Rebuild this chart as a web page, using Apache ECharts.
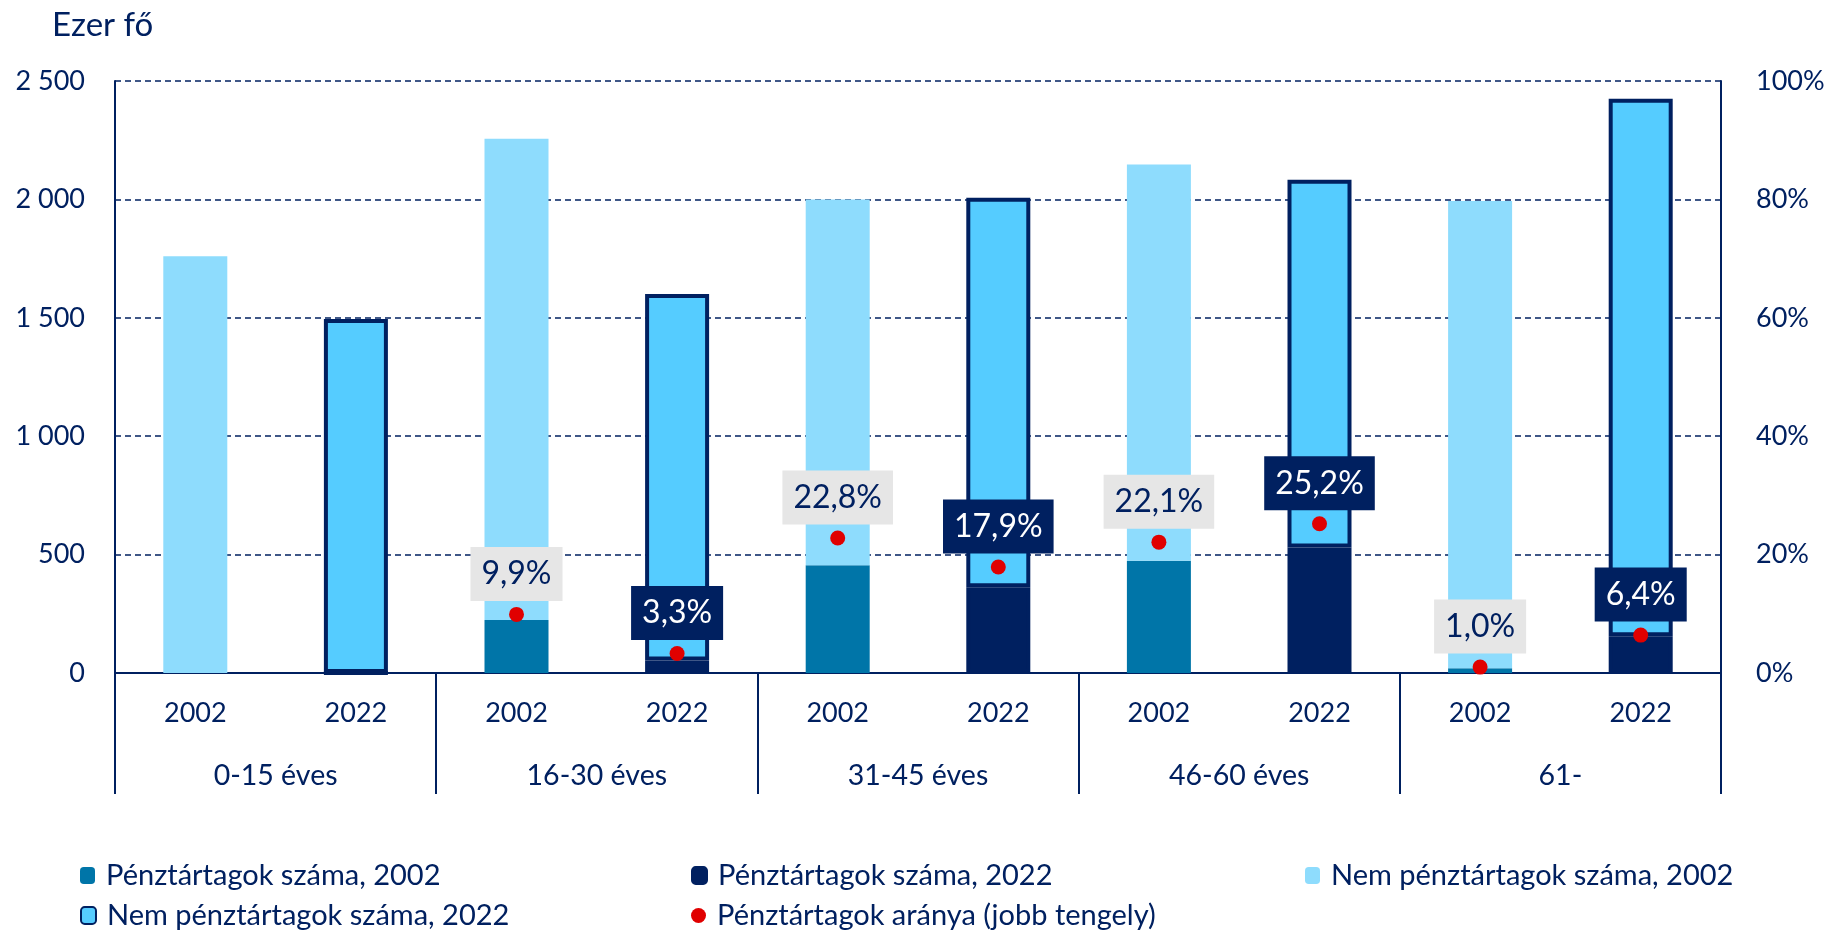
<!DOCTYPE html>
<html>
<head>
<meta charset="utf-8">
<script src="https://cdn.jsdelivr.net/npm/echarts@6/dist/echarts.min.js"></script>
<style>
html,body{margin:0;padding:0;background:#fff;}
#chart{width:1844px;height:931px;}
</style>
</head>
<body>
<div id="chart"></div>
<script>
// ---- data ----
const years = ['2002','2022','2002','2022','2002','2022','2002','2022','2002','2022'];
const groups = ['0-15 éves','16-30 éves','31-45 éves','46-60 éves','61-'];
const members2002 = [0, '-', 224, '-', 455, '-', 474, '-', 20, '-'];
const members2022 = ['-', 0, '-', 53, '-', 362, '-', 530, '-', 155];
const nonMembers2002 = [1760, '-', 2032, '-', 1545, '-', 1673, '-', 1973, '-'];
const nonMembers2022 = ['-', 1495, '-', 1547, '-', 1645, '-', 1553, '-', 2270];
const shareRight = ['-', '-', 9.9, 3.3, 22.8, 17.9, 22.1, 25.2, 1.0, 6.4];
const leftTicks = [0, 500, 1000, 1500, 2000, 2500];
const rightTicks = [0, 20, 40, 60, 80, 100];

const NAVY = '#002060';
const FONT = 'Lato';
const names = ['Pénztártagok száma, 2002','Pénztártagok száma, 2022','Nem pénztártagok száma, 2002','Nem pénztártagok száma, 2022','Pénztártagok aránya (jobb tengely)'];

const shareData = shareRight.map((v, i) => {
  if (v === '-') return '-';
  const is2002 = years[i] === '2002';
  return {
    value: v,
    label: {
      backgroundColor: is2002 ? '#e6e6e6' : NAVY,
      color: is2002 ? NAVY : '#ffffff'
    }
  };
});

const chart = echarts.init(document.getElementById('chart'));
const BW = 64;
chart.setOption({
  animation: false,
  textStyle: {fontFamily: FONT, color: NAVY},
  title: {
    text: 'Ezer fő', left: 47, top: 4,
    textStyle: {fontFamily: FONT, fontSize: 33, fontWeight: 'normal', color: NAVY}
  },
  grid: {left: 115, right: 123, top: 81, bottom: 258, containLabel: false},
  legend: [
    {data: [names[0]], left: 80, top: 861},
    {data: [names[1]], left: 691, top: 861},
    {data: [names[2]], left: 1305, top: 861},
    {data: [names[3]], left: 80, top: 901},
    {data: [names[4]], left: 691, top: 901}
  ].map(l => Object.assign(l, {
    itemWidth: 15, itemHeight: 17, itemGap: 10, padding: 0,
    textStyle: {fontFamily: FONT, fontSize: 29, color: NAVY, padding: [0, 0, 0, 6]}
  })),
  xAxis: [
    {
      type: 'category', data: years, position: 'bottom',
      axisLine: {show: false}, axisTick: {show: false},
      axisLabel: {fontFamily: FONT, fontSize: 27, color: NAVY, margin: 27}
    },
    {
      type: 'category', data: groups, position: 'bottom', boundaryGap: true,
      axisLine: {show: true, lineStyle: {color: NAVY, width: 2}},
      axisTick: {show: true, length: 121, lineStyle: {color: NAVY, width: 2}},
      axisLabel: {fontFamily: FONT, fontSize: 28.5, color: NAVY, margin: 88}
    }
  ],
  yAxis: [
    {
      type: 'value', min: 0, max: 2500, interval: 500,
      axisLine: {show: true, lineStyle: {color: NAVY, width: 2}},
      axisTick: {show: false},
      splitLine: {show: true, lineStyle: {color: NAVY, type: [6, 4], width: 1.5}},
      axisLabel: {
        fontFamily: FONT, fontSize: 27, color: NAVY, margin: 30,
        formatter: v => leftTicks.includes(v) ? String(v).replace(/\B(?=(\d{3})+(?!\d))/g, ' ') : ''
      }
    },
    {
      type: 'value', min: 0, max: 100, interval: 20, position: 'right',
      axisLine: {show: true, lineStyle: {color: NAVY, width: 2}},
      axisTick: {show: false},
      splitLine: {show: false},
      axisLabel: {
        fontFamily: FONT, fontSize: 27, color: NAVY, margin: 35,
        formatter: v => rightTicks.includes(v) ? v + '%' : ''
      }
    }
  ],
  series: [
    {
      name: names[0], type: 'bar', stack: 's', barWidth: BW, data: members2002,
      itemStyle: {color: '#0075a8'}
    },
    {
      name: names[1], type: 'bar', stack: 's', barWidth: BW, data: members2022,
      itemStyle: {color: NAVY, borderColor: NAVY, borderWidth: 4}
    },
    {
      name: names[2], type: 'bar', stack: 's', barWidth: BW, data: nonMembers2002,
      itemStyle: {color: '#8edcfd'}
    },
    {
      name: names[3], type: 'bar', stack: 's', barWidth: BW, data: nonMembers2022,
      itemStyle: {color: '#55ccff', borderColor: NAVY, borderWidth: 4}
    },
    {
      name: names[4], type: 'scatter', yAxisIndex: 1, symbol: 'circle', symbolSize: 15,
      data: shareData, z: 5,
      itemStyle: {color: '#e00000', opacity: 1},
      label: {
        show: true, position: 'top', distance: 6, opacity: 1,
        fontFamily: FONT, fontSize: 32, lineHeight: 36, padding: [9, 11, 9, 11],
        formatter: p => p.value.toFixed(1).replace('.', ',') + '%'
      }
    }
  ]
});
</script>
</body>
</html>
